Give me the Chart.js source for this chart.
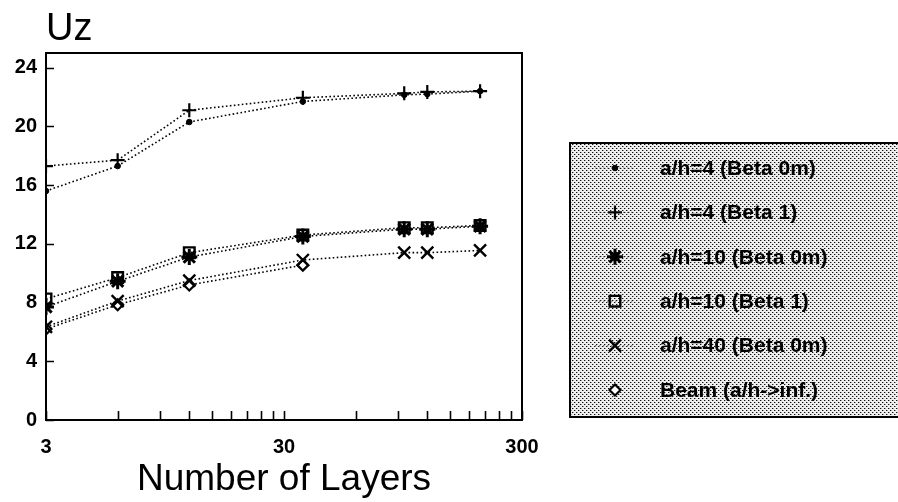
<!DOCTYPE html>
<html>
<head>
<meta charset="utf-8">
<script src="https://cdn.jsdelivr.net/npm/chart.js@4/dist/chart.umd.min.js"></script>
<style>
  html, body { margin: 0; padding: 0; background: #fff; }
  #wrap { width: 898px; height: 502px; }
</style>
</head>
<body>
<div id="wrap"><canvas id="c" width="898" height="502"></canvas></div>
<script>
// ---- data ----
const layers      = [3, 6, 12, 36, 96, 120, 200];
const beamLayers  = [3, 6, 12, 36];
const ah4Beta0m   = [15.6, 17.3, 20.3, 21.7, 22.15, 22.2, 22.4];
const ah4Beta1    = [17.3, 17.7, 21.1, 21.95, 22.25, 22.35, 22.4];
const ah10Beta0m  = [7.7, 9.45, 11.1, 12.5, 13.0, 13.0, 13.2];
const ah10Beta1   = [8.25, 9.7, 11.4, 12.6, 13.1, 13.1, 13.25];
const ah40Beta0m  = [6.35, 8.1, 9.5, 10.9, 11.4, 11.4, 11.55];
const beam        = [6.2, 7.85, 9.2, 10.55];
const seriesNames = ['a/h=4 (Beta 0m)', 'a/h=4 (Beta 1)', 'a/h=10 (Beta 0m)', 'a/h=10 (Beta 1)', 'a/h=40 (Beta 0m)', 'Beam (a/h->inf.)'];
const xTickValues = [3, 6, 9, 12, 15, 18, 21, 24, 27, 30, 60, 90, 120, 150, 180, 210, 240, 270, 300];
const xTickLabels = [3, 30, 300];
const yTickValues = [0, 4, 8, 12, 16, 20, 24];

const pts = (xs, ys) => ys.map((v, i) => ({ x: xs[i], y: v }));

const base = {
  borderColor: '#000',
  borderWidth: 1.6,
  borderDash: [1.6, 2.4],
  pointBorderColor: '#000',
  fill: false,
  tension: 0
};

const datasets = [
  Object.assign({}, base, { label: seriesNames[0], data: pts(layers, ah4Beta0m), pointStyle: 'circle', pointRadius: 2.8, pointBackgroundColor: '#000', pointBorderWidth: 1 }),
  Object.assign({}, base, { label: seriesNames[1], data: pts(layers, ah4Beta1), pointStyle: 'cross', pointRadius: 7, pointBackgroundColor: '#000', pointBorderWidth: 2.2 }),
  Object.assign({}, base, { label: seriesNames[2], data: pts(layers, ah10Beta0m), pointStyle: 'star', pointRadius: 8, pointBackgroundColor: '#000', pointBorderWidth: 3 }),
  Object.assign({}, base, { label: seriesNames[3], data: pts(layers, ah10Beta1), pointStyle: 'rect', pointRadius: 7.5, pointBackgroundColor: 'rgba(255,255,255,0)', pointBorderWidth: 2.4 }),
  Object.assign({}, base, { label: seriesNames[4], data: pts(layers, ah40Beta0m), pointStyle: 'crossRot', pointRadius: 8.5, pointBackgroundColor: '#000', pointBorderWidth: 2.4 }),
  Object.assign({}, base, { label: seriesNames[5], data: pts(beamLayers, beam), pointStyle: 'rectRot', pointRadius: 5.5, pointBackgroundColor: '#fff', pointBorderWidth: 2.2 })
];

function makePattern(ctx) {
  const c = document.createElement('canvas');
  c.width = 4; c.height = 4;
  const g = c.getContext('2d');
  g.fillStyle = '#eeeeee';
  g.fillRect(0, 0, 4, 4);
  g.fillStyle = '#111';
  g.fillRect(0, 0, 1, 1);
  g.fillRect(2, 2, 1, 1);
  g.fillStyle = '#a0a0a0';
  g.fillRect(1, 0, 1, 1);
  g.fillRect(3, 2, 1, 1);
  return ctx.createPattern(c, 'repeat');
}

const framePlugin = {
  id: 'frame',
  afterDraw(chart) {
    const { ctx, chartArea: a, scales } = chart;
    const x = scales.x, y = scales.y;
    ctx.save();
    // plot frame
    ctx.strokeStyle = '#000';
    ctx.lineWidth = 2;
    ctx.setLineDash([]);
    ctx.strokeRect(a.left, a.top, a.right - a.left, a.bottom - a.top);
    // inward tick marks
    ctx.lineWidth = 1.6;
    ctx.beginPath();
    x.ticks.forEach(t => {
      const px = Math.round(x.getPixelForValue(t.value)) + 0.5;
      ctx.moveTo(px, a.bottom);
      ctx.lineTo(px, a.bottom - 9);
    });
    y.ticks.forEach(t => {
      const py = Math.round(y.getPixelForValue(t.value)) + 0.5;
      ctx.moveTo(a.left, py);
      ctx.lineTo(a.left + 8, py);
    });
    ctx.stroke();

    // legend box
    const bx = 570, by = 143, bw = 340, bh = 274;
    ctx.fillStyle = makePattern(ctx);
    ctx.fillRect(bx, by, bw, bh);
    ctx.strokeStyle = '#000';
    ctx.lineWidth = 2;
    ctx.strokeRect(bx, by, bw, bh);

    const rowY0 = 168, rowStep = 44.4, markX = 615, textX = 660;
    chart.data.datasets.forEach((ds, i) => {
      const ry = rowY0 + i * rowStep;
      if (i < 5) {
        ctx.strokeStyle = 'rgba(0,0,0,0.45)';
        ctx.lineWidth = 1.2;
        ctx.setLineDash([1.5, 2.5]);
        ctx.beginPath();
        ctx.moveTo(markX - 20, ry);
        ctx.lineTo(markX + 20, ry);
        ctx.stroke();
      }
      ctx.setLineDash([]);
      ctx.strokeStyle = '#000';
      ctx.fillStyle = ds.pointBackgroundColor;
      ctx.lineWidth = ds.pointBorderWidth;
      const opts = { pointStyle: ds.pointStyle, radius: ds.pointRadius, rotation: 0, borderWidth: ds.pointBorderWidth };
      if (Chart.helpers && Chart.helpers.drawPoint) {
        Chart.helpers.drawPoint(ctx, opts, markX, ry);
      }
      ctx.fillStyle = '#000';
      ctx.font = 'bold 21px "Liberation Sans", Arial, sans-serif';
      ctx.textAlign = 'left';
      ctx.textBaseline = 'middle';
      ctx.fillText(ds.label, textX, ry + 1);
    });
    ctx.restore();
  }
};

new Chart(document.getElementById('c'), {
  type: 'line',
  data: { datasets },
  plugins: [framePlugin],
  options: {
    responsive: false,
    devicePixelRatio: 1,
    animation: false,
    layout: { padding: { left: 0, right: 376, top: 0, bottom: 0 } },
    plugins: {
      legend: { display: false },
      tooltip: { enabled: false },
      title: {
        display: true,
        text: 'Uz',
        align: 'start',
        fullSize: false,
        color: '#000',
        font: { family: '"Liberation Sans", Arial, sans-serif', size: 38, weight: 'normal', lineHeight: 1.2 },
        padding: { top: 7, bottom: 0.4 }
      }
    },
    scales: {
      x: {
        type: 'logarithmic',
        min: 3,
        max: 300,
        afterBuildTicks: s => { s.ticks = xTickValues.map(v => ({ value: v })); },
        afterFit: s => { s.height = 82; },
        grid: { display: true, drawOnChartArea: false, drawTicks: false, color: 'rgba(0,0,0,0)' },
        border: { display: false },
        ticks: {
          autoSkip: false,
          maxRotation: 0,
          padding: 15,
          color: '#000',
          font: { family: '"Liberation Sans", Arial, sans-serif', size: 20, weight: 'bold' },
          callback: v => xTickLabels.includes(v) ? String(v) : ''
        },
        title: {
          display: true,
          text: 'Number of Layers',
          color: '#000',
          font: { family: '"Liberation Sans", Arial, sans-serif', size: 37, weight: 'normal', lineHeight: 1.2 },
          padding: { top: 0, bottom: 0 }
        }
      },
      y: {
        type: 'linear',
        min: 0,
        max: 25,
        afterBuildTicks: s => { s.ticks = yTickValues.map(v => ({ value: v })); },
        afterFit: s => { s.width = 46; },
        grid: { display: true, drawOnChartArea: false, drawTicks: false, color: 'rgba(0,0,0,0)' },
        border: { display: false },
        ticks: {
          padding: 9,
          color: '#000',
          font: { family: '"Liberation Sans", Arial, sans-serif', size: 20, weight: 'bold' },
          callback: v => String(v)
        }
      }
    }
  }
});
</script>
</body>
</html>
